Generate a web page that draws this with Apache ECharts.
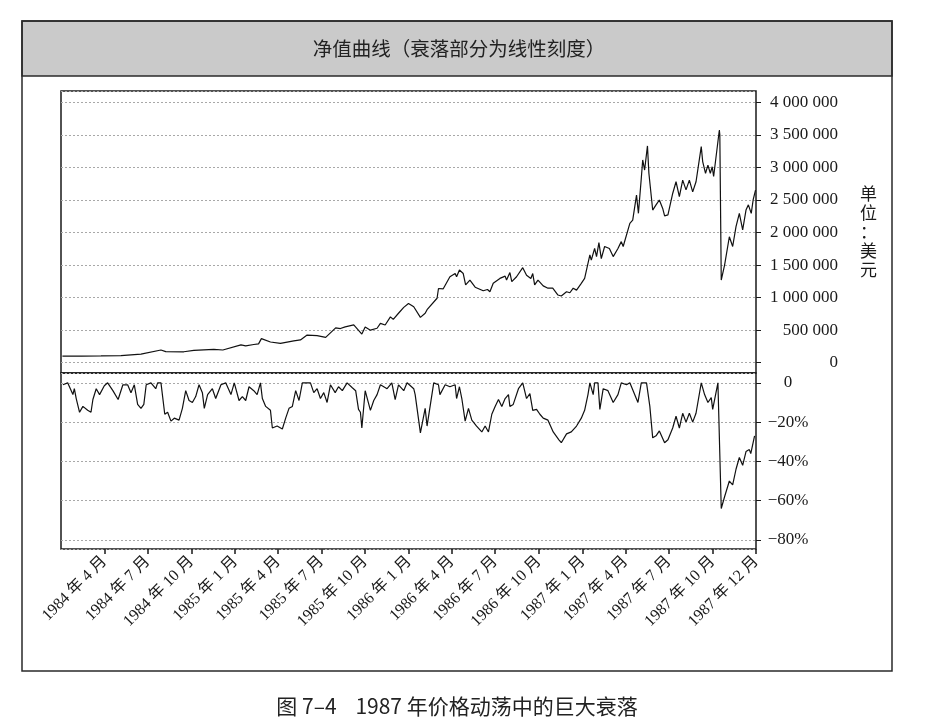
<!DOCTYPE html>
<html>
<head>
<meta charset="utf-8">
<script src="https://cdn.jsdelivr.net/npm/echarts@6/dist/echarts.min.js"></script>
<style>
  html, body { margin: 0; padding: 0; background: #fff; }
  #chart { width: 928px; height: 722px; }
</style>
</head>
<body>
<div id="chart"></div>
<script>
// equity curve, USD (top panel)
const eqDates = [
  '1984-01-04','1984-02-13','1984-03-25','1984-05-06','1984-05-10','1984-06-17','1984-07-29','1984-08-08','1984-09-15','1984-10-06','1984-11-17','1984-12-06',
  '1985-01-13','1985-01-23','1985-02-09','1985-02-19','1985-02-25','1985-03-16','1985-04-06','1985-05-04','1985-05-18','1985-06-01','1985-06-22','1985-07-10','1985-07-31','1985-08-10','1985-08-20','1985-09-07','1985-09-24','1985-10-01','1985-10-12','1985-10-26','1985-11-02','1985-11-12','1985-11-23','1985-11-29','1985-12-10','1985-12-21','1985-12-31',
  '1986-01-11','1986-01-25','1986-02-04','1986-02-08','1986-03-01','1986-03-04','1986-03-14','1986-03-28','1986-04-08','1986-04-11','1986-04-17','1986-04-25','1986-04-30','1986-05-09','1986-05-20','1986-06-06','1986-06-15','1986-06-20','1986-06-27','1986-07-11','1986-07-22','1986-07-25','1986-08-01','1986-08-05','1986-08-15','1986-08-28','1986-09-05','1986-09-14','1986-09-18','1986-09-22','1986-09-29','1986-10-10','1986-10-20','1986-10-30','1986-11-10','1986-11-17','1986-11-28','1986-12-05','1986-12-12','1986-12-19','1986-12-29',
  '1987-01-05','1987-01-16','1987-01-19','1987-01-26','1987-01-30','1987-02-04','1987-02-09','1987-02-16','1987-02-26','1987-03-06','1987-03-16','1987-03-23','1987-03-27','1987-04-10','1987-04-16','1987-04-24','1987-04-28','1987-05-04','1987-05-07','1987-05-11','1987-05-17','1987-05-20','1987-05-28','1987-06-04','1987-06-11','1987-06-18','1987-06-22','1987-06-29','1987-07-09','1987-07-16','1987-07-23','1987-07-30','1987-08-06','1987-08-13','1987-08-20','1987-08-27','1987-08-31','1987-09-07','1987-09-10','1987-09-16','1987-09-21','1987-09-26','1987-09-30','1987-10-03','1987-10-15','1987-10-16','1987-10-19','1987-10-26','1987-11-05','1987-11-12','1987-11-19','1987-11-26','1987-12-03','1987-12-10','1987-12-15','1987-12-21','1987-12-25','1987-12-30'
];
const eqValues = [
  100000,102000,104000,110000,135000,132000,195000,170000,168000,190000,205000,195000,
  275000,260000,280000,290000,370000,318000,298000,335000,350000,425000,415000,390000,535000,525000,550000,580000,440000,550000,500000,530000,605000,580000,705000,665000,760000,850000,910000,
  860000,697000,760000,815000,990000,1140000,1135000,1320000,1370000,1320000,1425000,1370000,1195000,1270000,1160000,1105000,1125000,1090000,1220000,1295000,1330000,1270000,1385000,1245000,1320000,1460000,1345000,1295000,1370000,1195000,1270000,1180000,1145000,1145000,1040000,1025000,1090000,1075000,1145000,1115000,1220000,
  1295000,1655000,1575000,1755000,1630000,1845000,1600000,1785000,1755000,1630000,1755000,1860000,1785000,2140000,2190000,2575000,2295000,2830000,3115000,2960000,3330000,2910000,2345000,2425000,2500000,2370000,2255000,2270000,2600000,2780000,2550000,2805000,2655000,2805000,2625000,2780000,2805000,3320000,3090000,2910000,3035000,2910000,3010000,2860000,3575000,3500000,1270000,1500000,1935000,1785000,2090000,2295000,2040000,2345000,2425000,2295000,2500000,2650000
];

// drawdown, percent (bottom panel)
const ddDates = [
  '1984-01-05','1984-01-15','1984-01-26','1984-01-29','1984-02-02','1984-02-09','1984-02-16','1984-02-26','1984-03-04','1984-03-08','1984-03-15','1984-03-22','1984-04-01','1984-04-08','1984-04-19','1984-04-30','1984-05-10','1984-05-20','1984-05-27','1984-06-03','1984-06-10','1984-06-17','1984-06-23','1984-06-28','1984-07-08','1984-07-18','1984-07-22','1984-07-29','1984-08-06','1984-08-12','1984-08-19','1984-08-26','1984-09-05','1984-09-12','1984-09-19','1984-09-26','1984-10-03','1984-10-10','1984-10-17','1984-10-24','1984-10-28','1984-11-04','1984-11-14','1984-11-21','1984-12-02','1984-12-12','1984-12-23','1984-12-30',
  '1985-01-09','1985-01-16','1985-01-23','1985-01-30','1985-02-09','1985-02-16','1985-02-23','1985-02-27','1985-03-06','1985-03-16','1985-03-20','1985-03-30','1985-04-10','1985-04-17','1985-04-24','1985-05-01','1985-05-08','1985-05-15','1985-05-22','1985-06-01','1985-06-08','1985-06-15','1985-06-22','1985-06-29','1985-07-06','1985-07-13','1985-07-20','1985-07-30','1985-08-06','1985-08-14','1985-08-24','1985-09-04','1985-09-11','1985-09-17','1985-09-21','1985-09-24','1985-10-01','1985-10-12','1985-10-19','1985-10-26','1985-11-02','1985-11-16','1985-11-26','1985-12-03','1985-12-10','1985-12-21','1985-12-28',
  '1986-01-11','1986-01-14','1986-01-25','1986-02-04','1986-02-08','1986-02-22','1986-03-04','1986-03-07','1986-03-18','1986-03-28','1986-04-08','1986-04-11','1986-04-17','1986-04-22','1986-04-29','1986-05-06','1986-05-13','1986-05-23','1986-06-03','1986-06-10','1986-06-17','1986-06-24','1986-07-01','1986-07-08','1986-07-15','1986-07-22','1986-07-29','1986-08-01','1986-08-08','1986-08-19','1986-08-28','1986-09-05','1986-09-12','1986-09-18','1986-09-26','1986-10-03','1986-10-10','1986-10-20','1986-10-31','1986-11-12','1986-11-17','1986-11-28','1986-12-08','1986-12-19','1986-12-29',
  '1987-01-05','1987-01-12','1987-01-16','1987-01-23','1987-01-26','1987-02-02','1987-02-06','1987-02-13','1987-02-23','1987-03-06','1987-03-16','1987-03-23','1987-04-03','1987-04-10','1987-04-27','1987-05-04','1987-05-15','1987-05-18','1987-05-22','1987-05-28','1987-06-04','1987-06-11','1987-06-22','1987-06-29','1987-07-09','1987-07-16','1987-07-23','1987-07-30','1987-08-06','1987-08-13','1987-08-20','1987-08-27','1987-09-07','1987-09-14','1987-09-21','1987-09-28','1987-10-01','1987-10-12','1987-10-15','1987-10-19','1987-10-26','1987-11-05','1987-11-12','1987-11-19','1987-11-26','1987-12-03','1987-12-10','1987-12-17','1987-12-20','1987-12-28'
];
const ddValues = [
  -1,0,-6,-3,-8,-15,-12,-14,-15,-8.5,-3,-6,-1.5,0,-4,-8.5,-1,-1,-5,-1,-11,-13,-11,-1,0,-3,0,0,-16,-15,-19.5,-18,-19,-13,-4,-9,-10,-7,-1,-5,-13,-6,-3,-8,-1,0,-6,0,
  -9,-7,-9,-2,-4,-6,0,-8,-12,-14,-23,-22,-23.5,-18,-13,-12,-4,-9,0,0,0,-5,-3,-8,-5,-10,-1,-5,-2,-4,0,-2.5,-4,-13.5,-15,-23,-4,-14,-9,-6,-1,-3,0,-8.5,-1,-4,0,
  -3,-6,-25.5,-13,-22,0,-1,-6,-1,-2,-1,-8,-2,-8,-19.5,-13,-19,-22,-25,-22,-25,-16,-12,-8.5,-12,-8,-6,-12,-11,-3,0,-8,-5.5,-14,-13.5,-16,-18,-19,-25,-29,-30.5,-26,-25,-22,-18,
  -14,-6,0,-6,0,0,-13.5,-3,-4,-10,-6,0,-1,0,-10,0,0,0,-12,-28,-27,-24.5,-30.5,-29,-23,-17,-23,-15.5,-20,-15.5,-20,-15.5,0,-6,-10,-7.5,-13.5,0,0,-64,-58,-50,-52,-44,-38,-42,-35,-34,-36,-27
];

// x-axis tick positions (quarter starts, last one = end of data)
const tickDates = [
  '1984-04-01','1984-07-01','1984-10-01','1985-01-01','1985-04-01','1985-07-01','1985-10-01',
  '1986-01-01','1986-04-01','1986-07-01','1986-10-01','1987-01-01','1987-04-01','1987-07-01',
  '1987-10-01','1987-12-31'
];

const titleText = '净值曲线（衰落部分为线性刻度）';
const captionText = '图 7–4    1987 年价格动荡中的巨大衰落';
const unitText = '单位：美元';

const serif = "'Liberation Serif', 'Noto Sans CJK SC', serif";
const sans = "'Noto Sans CJK SC', sans-serif";

const chart = echarts.init(document.getElementById('chart'));

const ts = d => echarts.number.parseDate(d).getTime();
const tickTs = tickDates.map(ts);
const xMin = ts('1984-01-01');
const xMax = ts('1987-12-31');

function fmtMoney(v) {
  if (v % 500000 !== 0) return '';
  return String(v).replace(/\B(?=(\d{3})+(?!\d))/g, ' ');
}
function fmtPct(v) {
  if (Math.abs(v % 20) > 1e-6) return '';
  if (v === 0) return '0';
  return (v < 0 ? '\u2212' : '') + Math.abs(v) + '%';
}
function fmtDate(v) {
  const d = new Date(v);
  return d.getFullYear() + ' 年 ' + (d.getMonth() + 1) + ' 月';
}

const gridBox = {
  show: true,
  borderColor: '#1a1a1a',
  borderWidth: 1.5,
  backgroundColor: 'transparent',
  left: 61,
  right: 172,
  outerBoundsMode: 'none'
};

const splitDots = { show: true, lineStyle: { color: '#a8a8a8', type: [2, 2], width: 1 } };

option = {
  backgroundColor: '#fff',
  animation: false,
  graphic: [
    {
      type: 'rect', z: -10,
      shape: { x: 22, y: 21, width: 870, height: 55 },
      style: { fill: '#cacaca', stroke: '#2a2a2a', lineWidth: 1.5 }
    },
    {
      type: 'rect', z: -9,
      shape: { x: 22, y: 21, width: 870, height: 650 },
      style: { fill: 'none', stroke: '#2a2a2a', lineWidth: 1.5 }
    },
    {
      type: 'text', z: 10, x: 459, y: 49,
      style: { text: titleText, font: '19.5px ' + sans, fill: '#222', textAlign: 'center', textVerticalAlign: 'middle' }
    },
    {
      type: 'text', z: 10, x: 457, y: 706,
      style: { text: captionText, font: '21px ' + sans, fill: '#222', textAlign: 'center', textVerticalAlign: 'middle' }
    }
  ],
  grid: [
    Object.assign({ top: 91, height: 282 }, gridBox),
    Object.assign({ top: 373, height: 176 }, gridBox)
  ],
  xAxis: [
    {
      type: 'value', gridIndex: 0, min: xMin, max: xMax, position: 'bottom',
      axisLine: { show: false, onZero: false },
      axisTick: { show: false },
      axisLabel: { show: false },
      splitLine: { show: false }
    },
    {
      type: 'value', gridIndex: 1, min: xMin, max: xMax, position: 'bottom',
      axisLine: { show: false, onZero: false },
      axisTick: { show: true, inside: false, length: 5, customValues: tickTs, lineStyle: { color: '#1a1a1a', width: 1.5 } },
      axisLabel: {
        show: true, customValues: tickTs, rotate: 45, margin: 10,
        fontFamily: serif, fontSize: 16, color: '#1a1a1a',
        formatter: fmtDate
      },
      splitLine: { show: false }
    }
  ],
  yAxis: [
    {
      type: 'value', gridIndex: 0, position: 'right',
      min: -158000, max: 4174000, splitNumber: 9,
      axisLine: { show: false, onZero: false },
      axisTick: { show: true, inside: false, length: 5, lineStyle: { color: '#1a1a1a' } },
      axisLabel: {
        align: 'right', margin: 82, fontFamily: serif, fontSize: 17, color: '#1a1a1a',
        showMinLabel: false, showMaxLabel: false, formatter: fmtMoney
      },
      splitLine: splitDots,
      name: unitText.split('').join('\n'),
      nameLocation: 'middle', nameRotate: 0, nameGap: 104,
      nameTextStyle: { fontFamily: sans, fontSize: 17, lineHeight: 19, color: '#1a1a1a', padding: [0, 0, 10, 0] }
    },
    {
      type: 'value', gridIndex: 1, position: 'right',
      min: -84.6, max: 5, splitNumber: 5,
      axisLine: { show: false, onZero: false },
      axisTick: { show: true, inside: false, length: 5, lineStyle: { color: '#1a1a1a' } },
      axisLabel: {
        align: 'center', margin: 32, fontFamily: serif, fontSize: 17, color: '#1a1a1a',
        showMinLabel: false, showMaxLabel: false, formatter: fmtPct
      },
      splitLine: splitDots
    }
  ],
  series: [
    {
      name: '净值', type: 'line', xAxisIndex: 0, yAxisIndex: 0,
      showSymbol: false, symbol: 'none',
      lineStyle: { color: '#111', width: 1.2 },
      data: eqDates.map((d, i) => [ts(d), eqValues[i]])
    },
    {
      name: '衰落', type: 'line', xAxisIndex: 1, yAxisIndex: 1,
      showSymbol: false, symbol: 'none',
      lineStyle: { color: '#111', width: 1.2 },
      data: ddDates.map((d, i) => [ts(d), ddValues[i]])
    }
  ]
};

chart.setOption(option);
</script>
</body>
</html>
